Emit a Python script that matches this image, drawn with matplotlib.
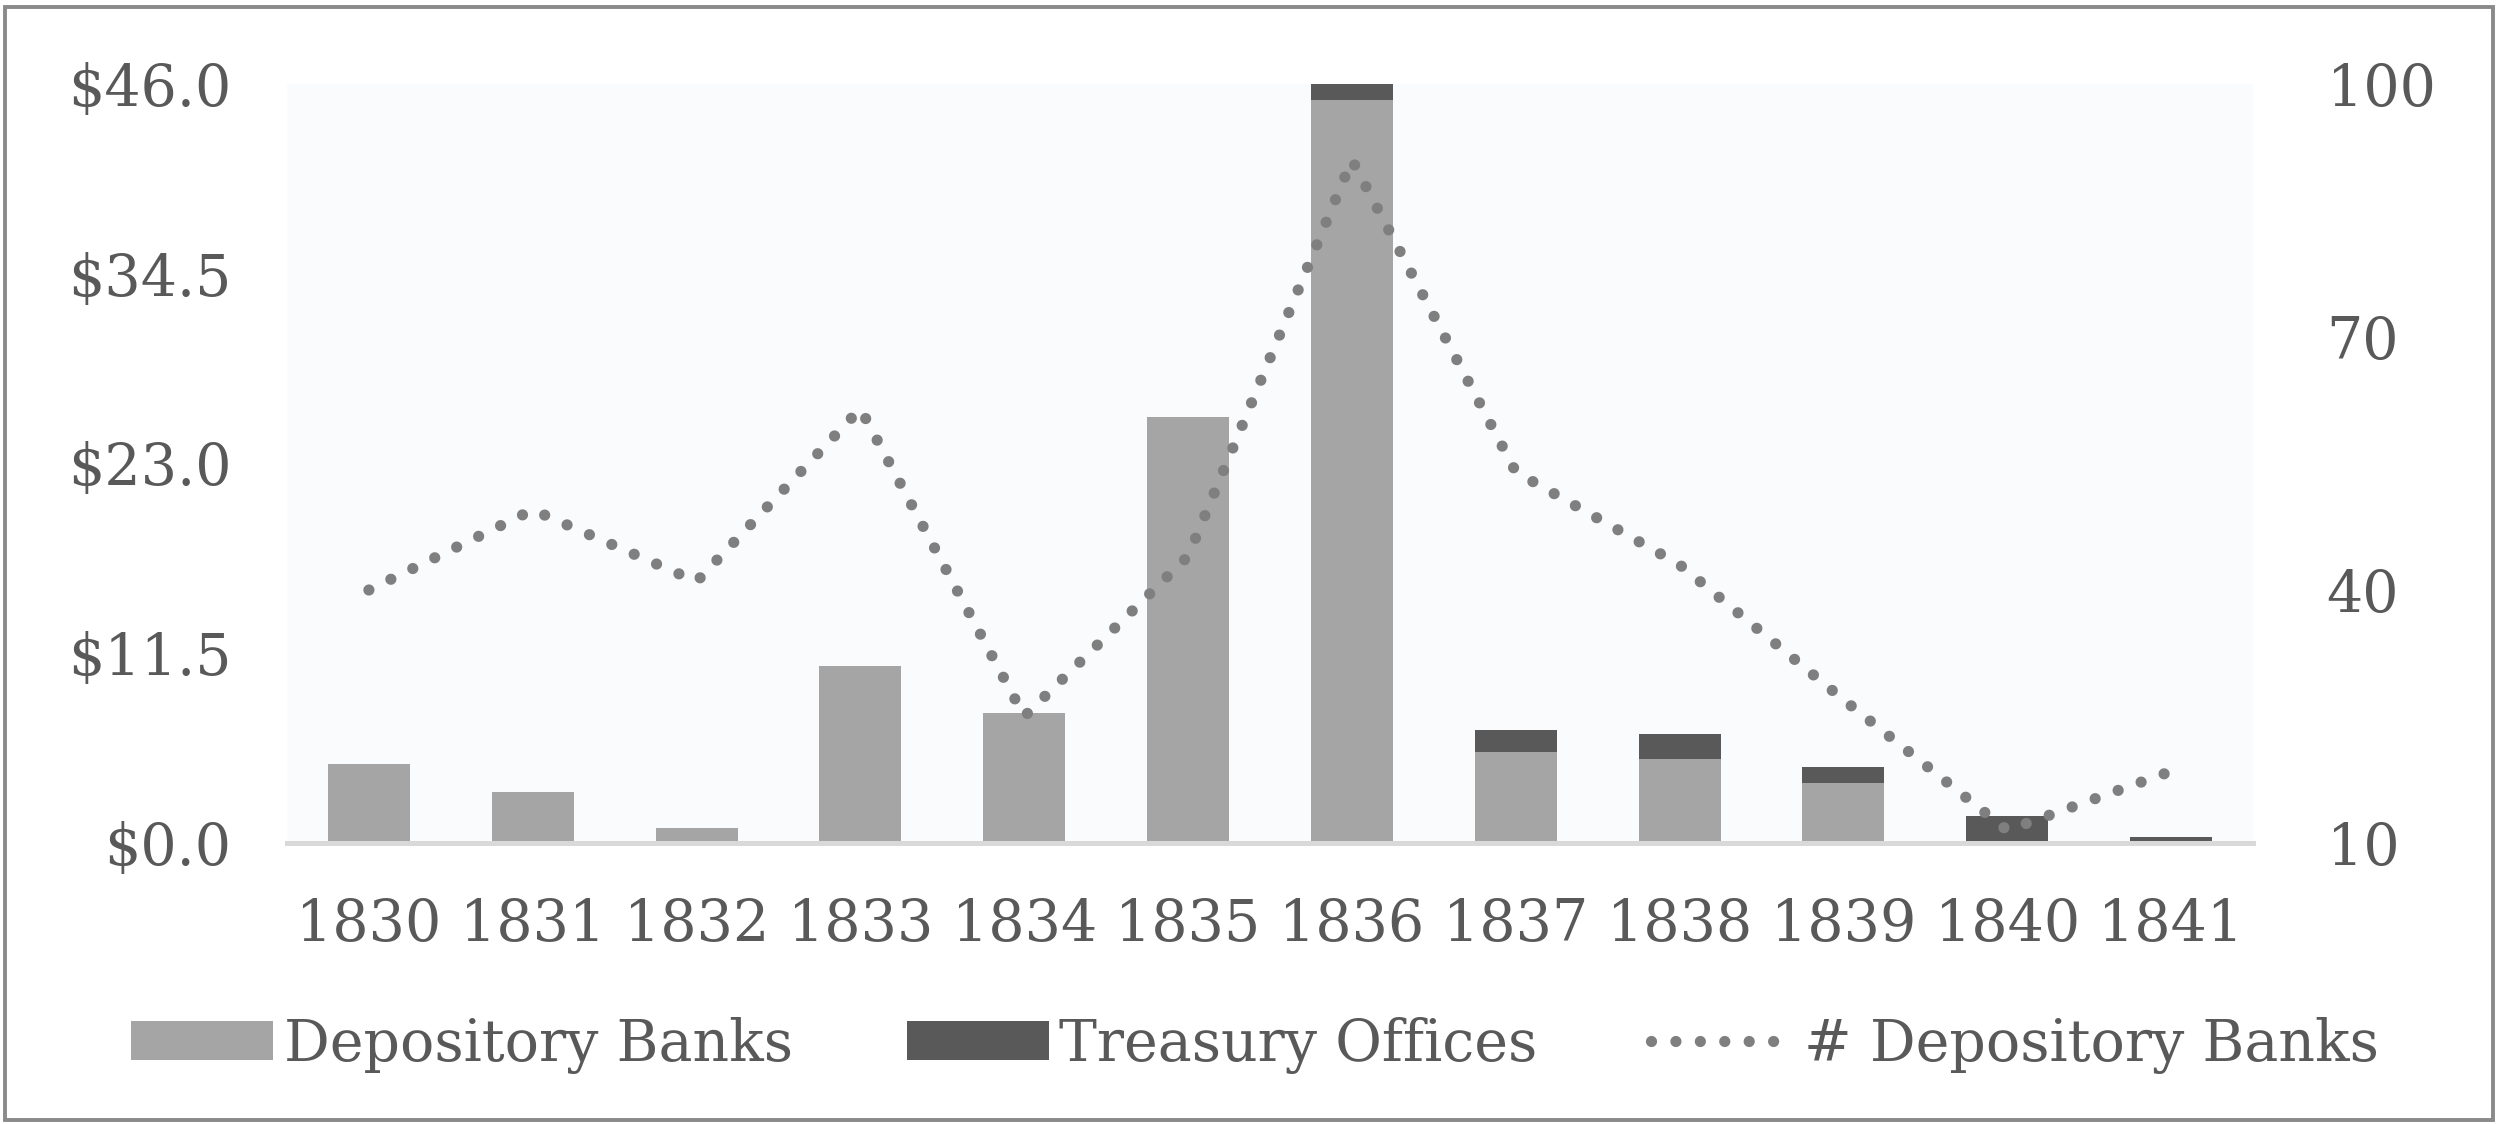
import numpy as np
import matplotlib
matplotlib.use('Agg')
import matplotlib.pyplot as plt
from matplotlib.patches import Rectangle

# data
years = ['1830', '1831', '1832', '1833', '1834', '1835',
         '1836', '1837', '1838', '1839', '1840', '1841']
depository = [4.8, 3.1, 0.9, 10.7, 7.9, 25.8, 45.0, 5.5, 5.1, 3.65, 0.0, 0.0]
treasury = [0.0, 0.0, 0.0, 0.0, 0.0, 0.0, 1.0, 1.33, 1.52, 0.97, 1.64, 0.36]
n_banks = [40, 49.5, 41, 61.5, 25, 44, 91, 54, 43, 27, 11.5, 18.5]

left_ticks = [0, 11.5, 23, 34.5, 46]
right_ticks = [10, 40, 70, 100]

txt = '#595959'
fs = 41
plt.rcParams['font.family'] = ['DejaVu Serif']
plt.rcParams['font.size'] = fs

fig = plt.figure(figsize=(25, 11.24), dpi=100)
ax = fig.add_axes([0.1148, 0.25, 0.9012 - 0.1148, 0.9253 - 0.25])
ax.set_facecolor('#fafbfd')

x = np.arange(len(years))
ax.bar(x, depository, width=0.5, color='#a5a5a5', label='Depository Banks', zorder=2)
ax.bar(x, treasury, width=0.5, bottom=depository, color='#595959',
       label='Treasury Offices', zorder=2)
ax.set_xlim(-0.5, len(years) - 0.5)
ax.set_ylim(0, 46)
ax.set_yticks(left_ticks)
ax.set_yticklabels(['$%.1f' % v for v in left_ticks])
ax.set_xticks(x)
ax.set_xticklabels(years)
ax.tick_params(axis='y', length=0, pad=40, colors=txt)
ax.tick_params(axis='x', length=0, pad=39, colors=txt)
for s in ['left', 'right', 'top']:
    ax.spines[s].set_visible(False)
ax.spines['bottom'].set_color('#d9d9d9')
ax.spines['bottom'].set_linewidth(3.6)

ax2 = ax.twinx()
ax2.plot(x, n_banks, color='#7f7f7f', lw=8.1, linestyle=(0, (0.001, 2.17)),
         dash_capstyle='round', label='# Depository Banks')
ax2.set_ylim(10, 100)
ax2.set_yticks(right_ticks)
ax2.tick_params(axis='y', length=0, pad=53, colors=txt)
for s in ax2.spines:
    ax2.spines[s].set_visible(False)

h1, l1 = ax.get_legend_handles_labels()
h2, l2 = ax2.get_legend_handles_labels()
fig.legend(h1 + h2, l1 + l2, loc='center', bbox_to_anchor=(0.502, 0.07), ncol=3,
           frameon=False, handlelength=2.5, handleheight=0.68, handletextpad=0.18,
           columnspacing=2.0, borderpad=0, labelcolor=txt, fontsize=fs)

fig.patches.append(Rectangle((0.002, 0.004), 0.995, 0.99, transform=fig.transFigure,
                             fill=False, edgecolor='#8a8a8a', lw=2.8))

fig.savefig('out.png', dpi=100, facecolor='white')
